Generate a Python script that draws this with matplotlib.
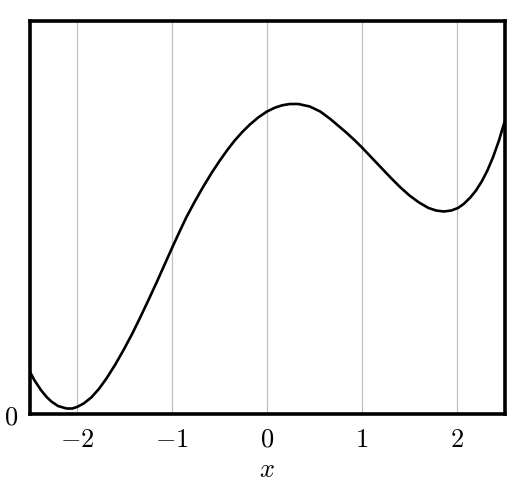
import numpy as np
import matplotlib
matplotlib.use("Agg")
import matplotlib.pyplot as plt

plt.rcParams['mathtext.fontset'] = 'cm'
plt.rcParams['font.family'] = 'serif'
plt.rcParams['font.serif'] = ['DejaVu Serif']

# curve
xs = [-2.5, -2.45, -2.38, -2.32, -2.27, -2.2, -2.11, -2.05, -2.0, -1.93,
      -1.85, -1.77, -1.69, -1.6, -1.51, -1.42, -1.34, -1.25, -1.16, -1.08,
      -1.0, -0.92, -0.85, -0.76, -0.67, -0.58, -0.5, -0.42, -0.34, -0.26,
      -0.18, -0.09, 0.0, 0.08, 0.16, 0.24, 0.33, 0.45, 0.56, 0.66,
      0.76, 0.84, 0.92, 1.0, 1.1, 1.19, 1.3, 1.4, 1.5, 1.6,
      1.7, 1.78, 1.86, 1.94, 2.01, 2.07, 2.14, 2.2, 2.26, 2.32,
      2.38, 2.44, 2.5]
ys = [0.43, 0.34, 0.24, 0.17, 0.125, 0.08, 0.055, 0.055, 0.07, 0.105,
      0.165, 0.25, 0.355, 0.49, 0.64, 0.80, 0.955, 1.135, 1.32, 1.49,
      1.66, 1.825, 1.965, 2.125, 2.275, 2.415, 2.53, 2.637, 2.735, 2.82,
      2.895, 2.967, 3.025, 3.062, 3.087, 3.10, 3.10, 3.075, 3.025, 2.955,
      2.875, 2.81, 2.74, 2.665, 2.565, 2.475, 2.365, 2.27, 2.185, 2.115,
      2.06, 2.035, 2.025, 2.035, 2.06, 2.10, 2.165, 2.235, 2.325, 2.435,
      2.57, 2.73, 2.92]

xticks = [-2, -1, 0, 1, 2]
xticklabels = ['$-2$', '$-1$', '$0$', '$1$', '$2$']

fig = plt.figure(figsize=(5.21, 4.86), dpi=100)
ax = fig.add_axes([29.5/521, 72/486, 475/521, 393/486])

ax.plot(xs, ys, color='black', lw=1.9, solid_capstyle='round', solid_joinstyle='round')

ax.set_xlim(-2.5, 2.5)
ax.set_ylim(0, 3.93)
ax.set_xticks(xticks)
ax.set_xticklabels(xticklabels, fontsize=19)
ax.set_yticks([0])
ax.set_yticklabels(['$0$'], fontsize=19)
ax.tick_params(length=0)
ax.tick_params(axis='x', pad=9)
ax.tick_params(axis='y', pad=8)
ax.grid(axis='x', color='#c0c0c0', lw=0.9)
ax.set_axisbelow(True)
for s in ax.spines.values():
    s.set_linewidth(2.6)
ax.set_xlabel('$x$', fontsize=19, labelpad=4)

fig.savefig('out.png', dpi=100)
